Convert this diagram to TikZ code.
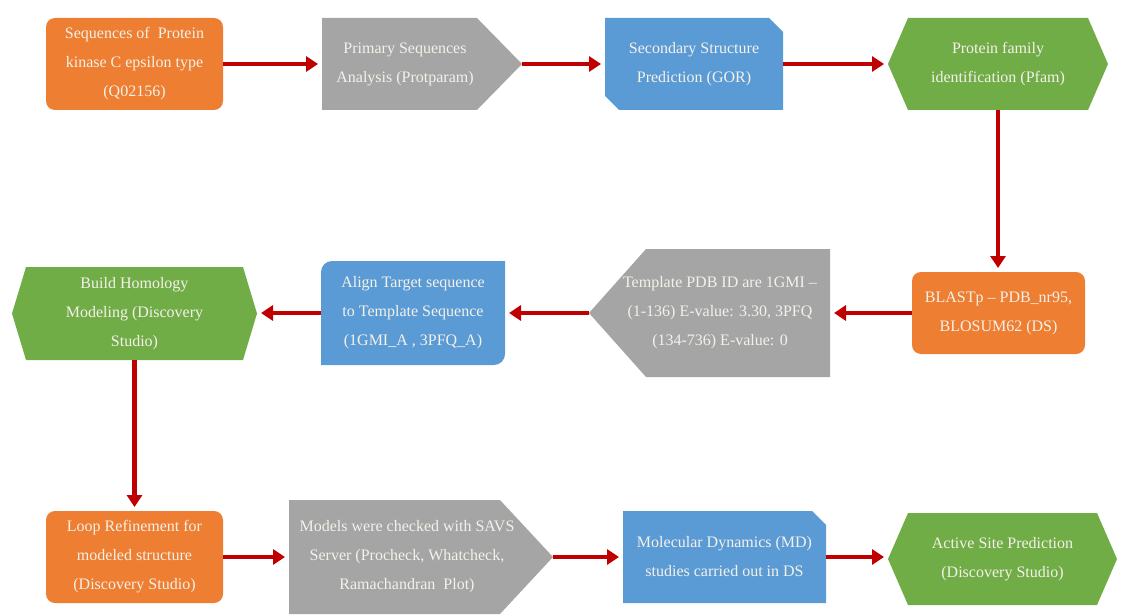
\documentclass[tikz,border=0pt]{standalone}
\usepackage{fontspec}
\setmainfont{Liberation Serif}
\usetikzlibrary{calc,arrows.meta,fit}
\pgfdeclarelayer{background}
\pgfsetlayers{background,main}
\definecolor{cor}{HTML}{EE7E31}
\definecolor{cgr}{HTML}{A5A5A5}
\definecolor{cbl}{HTML}{5B9BD5}
\definecolor{cgn}{HTML}{70AD47}
\definecolor{carr}{HTML}{C00000}
\definecolor{ctx}{HTML}{F4F1EA}
\begin{document}
\begin{tikzpicture}[x=1pt,y=-1pt,
  box/.style={inner sep=0pt,outer sep=0pt},
  txt/.style={inner sep=0pt,align=center,text=ctx,font=\fontsize{16}{29}\selectfont},
  arr/.style={draw=carr,line width=4.5pt,-{Triangle[length=12pt,width=15pt]},shorten >=4pt}]
\useasboundingbox (0,0) rectangle (1131,615);
% frames
\node[box,fit={(46,18) (223,110)}] (a1) {};
\node[box,fit={(322,18) (522,110)}] (a2) {};
\node[box,fit={(605,18) (783,110)}] (a3) {};
\node[box,fit={(888,18) (1108,110)}] (a4) {};
\node[box,fit={(912,272) (1085,354)}] (b1) {};
\node[box,fit={(589,249) (830,377)}] (b2) {};
\node[box,fit={(321,261) (505,365)}] (b3) {};
\node[box,fit={(12,267) (257,360)}] (b4) {};
\node[box,fit={(46,511) (223,603)}] (c1) {};
\node[box,fit={(289,500) (553,614)}] (c2) {};
\node[box,fit={(623,511) (826,603)}] (c3) {};
\node[box,fit={(888,513) (1117,605)}] (c4) {};
% texts
\node[txt] (a1t) at (a1) {Sequences of\ \ Protein\\kinase C epsilon type\\(Q02156)};
\node[txt] (a2t) at (405,64) {Primary Sequences\\Analysis (Protparam)};
\node[txt] (a3t) at (a3) {Secondary Structure\\Prediction (GOR)};
\node[txt] (a4t) at (a4) {Protein family\\identification (Pfam)};
\node[txt] (b1t) at (b1) {BLASTp -- PDB\_nr95,\\BLOSUM62 (DS)};
\node[txt] (b2t) at (720,313) {Template PDB ID are 1GMI --\\(1-136) E-value: 3.30, 3PFQ\\(134-736) E-value: 0};
\node[txt] (b3t) at (b3) {Align Target sequence\\to Template Sequence\\(1GMI\_A , 3PFQ\_A)};
\node[txt] (b4t) at (b4) {Build Homology\\Modeling (Discovery\\Studio)};
\node[txt] (c1t) at (c1) {Loop Refinement for\\modeled structure\\(Discovery Studio)};
\node[txt] (c2t) at (407,557) {Models were checked with SAVS\\Server (Procheck, Whatcheck,\\Ramachandran\ \ Plot)};
\node[txt] (c3t) at (c3) {Molecular Dynamics (MD)\\studies carried out in DS};
\node[txt] (c4t) at (c4) {Active Site Prediction\\(Discovery Studio)};
% shapes
\begin{pgfonlayer}{background}
\fill[cor,rounded corners=9pt] (a1.north west) rectangle (a1.south east);
\fill[cor,rounded corners=9pt] (b1.north west) rectangle (b1.south east);
\fill[cor,rounded corners=9pt] (c1.north west) rectangle (c1.south east);
\fill[cgr] (a2.north west) -- ($(a2.north east)+(-45,0)$) -- (a2.east) -- ($(a2.south east)+(-45,0)$) -- (a2.south west) -- cycle;
\fill[cgr] (c2.north west) -- ($(c2.north east)+(-53,0)$) -- (c2.east) -- ($(c2.south east)+(-53,0)$) -- (c2.south west) -- cycle;
\fill[cgr] (b2.north east) -- ($(b2.north west)+(57,0)$) -- (b2.west) -- ($(b2.south west)+(57,0)$) -- (b2.south east) -- cycle;
\fill[cbl] (a3.north west) -- ($(a3.north east)+(-14,0)$) -- ($(a3.north east)+(0,14)$) -- (a3.south east) -- ($(a3.south west)+(14,0)$) -- ($(a3.south west)+(0,-14)$) -- cycle;
\fill[cbl] (c3.north west) -- ($(c3.north east)+(-14,0)$) -- ($(c3.north east)+(0,14)$) -- (c3.south east) -- (c3.south west) -- cycle;
\fill[cbl] (b3.west) {[rounded corners=11pt] -- (b3.north west) -- (b3.north)} -- (b3.north east) -- (b3.east) {[rounded corners=11pt] -- (b3.south east) -- (b3.south)} -- (b3.south west) -- cycle;
\fill[cgn] (a4.west) -- ($(a4.north west)+(20,0)$) -- ($(a4.north east)+(-20,0)$) -- (a4.east) -- ($(a4.south east)+(-20,0)$) -- ($(a4.south west)+(20,0)$) -- cycle;
\fill[cgn] (b4.west) -- ($(b4.north west)+(14,0)$) -- ($(b4.north east)+(-14,0)$) -- (b4.east) -- ($(b4.south east)+(-14,0)$) -- ($(b4.south west)+(14,0)$) -- cycle;
\fill[cgn] (c4.west) -- ($(c4.north west)+(20,0)$) -- ($(c4.north east)+(-20,0)$) -- (c4.east) -- ($(c4.south east)+(-20,0)$) -- ($(c4.south west)+(20,0)$) -- cycle;
\end{pgfonlayer}
% connectors
\draw[arr] (a1.east) -- (a2.west |- a1.east);
\draw[arr] (a2.east) -- (a3.west |- a2.east);
\draw[arr] (a3.east) -- (a4.west |- a3.east);
\draw[arr] (a4.south) -- (b1.north -| a4.south);
\draw[arr] (b1.west) -- (b2.east |- b1.west);
\draw[arr] (b2.west) -- (b3.east |- b2.west);
\draw[arr] (b3.west) -- (b4.east |- b3.west);
\draw[arr] (b4.south) -- (c1.north -| b4.south);
\draw[arr] (c1.east) -- (c2.west |- c1.east);
\draw[arr] (c2.east) -- (c3.west |- c2.east);
\draw[arr] (c3.east) -- (c4.west |- c3.east);
\end{tikzpicture}
\end{document}
